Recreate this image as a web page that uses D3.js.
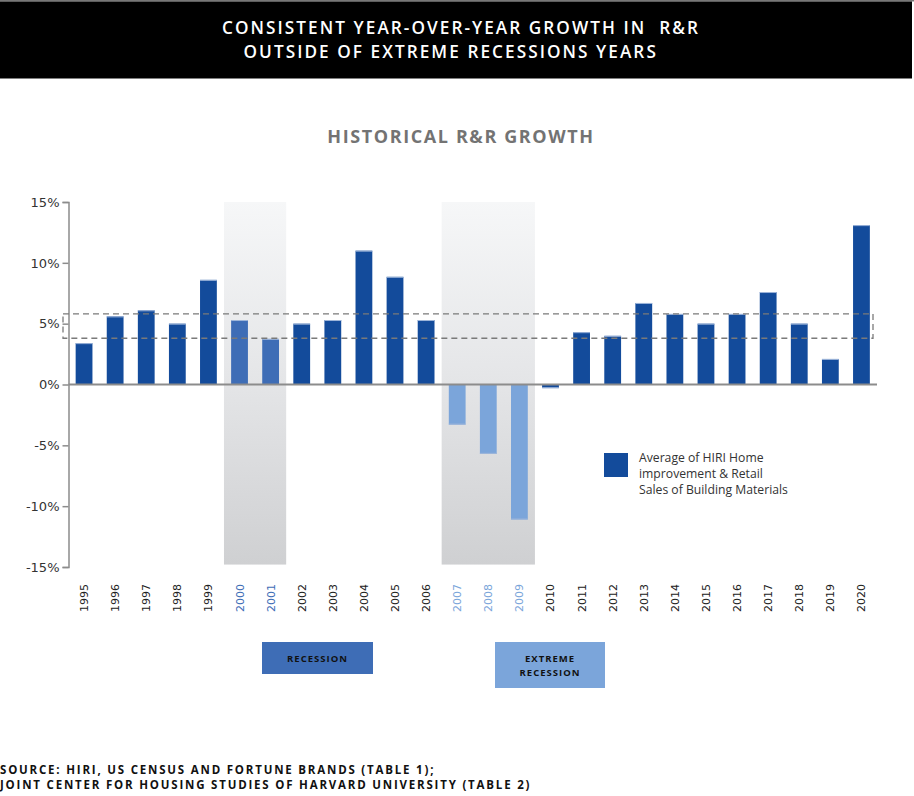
<!DOCTYPE html>
<html><head><meta charset="utf-8">
<script src="https://cdn.jsdelivr.net/npm/d3@7/dist/d3.min.js"></script>
<style>body{margin:0;background:#fff}svg{display:block}</style>
</head><body>
<svg id="c" width="914" height="796"></svg>
<script>
const years = ["1995","1996","1997","1998","1999","2000","2001","2002","2003","2004","2005","2006","2007","2008","2009","2010","2011","2012","2013","2014","2015","2016","2017","2018","2019","2020"];
const growth = [3.4,5.6,6.1,5.0,8.6,5.3,3.75,5.0,5.3,11.0,8.85,5.3,-3.3,-5.7,-11.1,-0.3,4.3,4.0,6.7,5.8,5.0,5.8,7.6,5.0,2.1,13.1];
const recessionYears = ["2000","2001"];
const extremeYears = ["2007","2008","2009"];
const yTicks = [-15,-10,-5,0,5,10,15];
const avgBandRange = [3.8, 5.8];
const titleLines = ["CONSISTENT YEAR-OVER-YEAR GROWTH IN  R&R","OUTSIDE OF EXTREME RECESSIONS YEARS"];
const subtitle = "HISTORICAL R&R GROWTH";
const legendLines = ["Average of HIRI Home","improvement & Retail","Sales of Building Materials"];
const sourceLines = ["SOURCE: HIRI, US CENSUS AND FORTUNE BRANDS (TABLE 1);","JOINT CENTER FOR HOUSING STUDIES OF HARVARD UNIVERSITY (TABLE 2)"];

const C_NORMAL="#134b9b", C_REC="#3e6db6", C_EXT="#7ba5da";
const svg=d3.select("#c");
const defs=svg.append("defs");
const g1=defs.append("linearGradient").attr("id","band").attr("x1",0).attr("y1",0).attr("x2",0).attr("y2",1);
g1.append("stop").attr("offset","0%").attr("stop-color","#f6f7f8");
g1.append("stop").attr("offset","45%").attr("stop-color","#e6e7e9");
g1.append("stop").attr("offset","100%").attr("stop-color","#cfd0d2");

// title band
svg.append("rect").attr("x",0).attr("y",0).attr("width",914).attr("height",1.5).attr("fill","#777");
svg.append("rect").attr("x",0).attr("y",1.5).attr("width",912).attr("height",77).attr("fill","#000");
const titleX=[222,243.5];
svg.selectAll("text.title").data(titleLines).join("text")
 .attr("x",(d,i)=>titleX[i]).attr("y",(d,i)=>33.5+i*24.4)
 .attr("fill","#fff").attr("font-family","Open Sans").attr("font-weight","600")
 .attr("font-size",17.2).attr("letter-spacing",2.05).style("white-space","pre").text(d=>d);

svg.append("text").attr("x",461).attr("y",143).attr("text-anchor","middle")
 .attr("fill","#737373").attr("font-family","Open Sans").attr("font-weight","bold")
 .attr("font-size",18).attr("letter-spacing",1.6).text(subtitle);

const x=d3.scaleBand().domain(years).range([68.5,877]).paddingInner(0.46).paddingOuter(0.23);
const y=d3.scaleLinear().domain([-15,15]).range([567,202]);

// shaded bands
function band(list){
  const x0=x(list[0])-x.step()*x.paddingInner()/2;
  const x1=x(list[list.length-1])+x.bandwidth()+x.step()*x.paddingInner()/2;
  svg.append("rect").attr("x",x0).attr("y",y(15)).attr("width",x1-x0).attr("height",y(-14.8)-y(15)).attr("fill","url(#band)");
}
band(recessionYears); band(extremeYears);

// y axis
const ya=svg.append("g").attr("transform","translate(68.5,0)")
 .call(d3.axisLeft(y).tickValues(yTicks).tickSize(6).tickPadding(3).tickFormat(d=>d+"%"));
ya.select(".domain").attr("stroke","#8c8c8c").attr("stroke-width",1.5);
ya.selectAll(".tick line").attr("stroke","#8c8c8c").attr("stroke-width",1.5);
ya.selectAll(".tick text").attr("font-family","DejaVu Sans").attr("font-size",13).attr("fill","#333");

function col(yr){return recessionYears.includes(yr)?C_REC:extremeYears.includes(yr)?C_EXT:C_NORMAL;}
// bars
svg.selectAll("rect.bar").data(years).join("rect").attr("class","bar")
 .attr("x",d=>x(d)).attr("width",x.bandwidth())
 .attr("y",(d,i)=>y(Math.max(0,growth[i]))).attr("height",(d,i)=>Math.abs(y(growth[i])-y(0)))
 .attr("fill",d=>col(d));
svg.selectAll("line.cap").data(years).join("line").attr("class","cap")
 .attr("x1",d=>x(d)).attr("x2",d=>x(d)+x.bandwidth())
 .attr("y1",(d,i)=>growth[i]>=0?y(growth[i])+0.5:y(growth[i])-0.5).attr("y2",(d,i)=>growth[i]>=0?y(growth[i])+0.5:y(growth[i])-0.5)
 .attr("stroke","#9fb6da").attr("stroke-width",1);

// zero line
svg.append("line").attr("x1",68.5).attr("x2",877).attr("y1",y(0)).attr("y2",y(0)).attr("stroke","#8c8c8c").attr("stroke-width",2);

// dashed average band
svg.append("rect").attr("x",63).attr("y",y(avgBandRange[1])).attr("width",873-63).attr("height",y(avgBandRange[0])-y(avgBandRange[1]))
 .attr("fill","none").attr("stroke","#7a7a7a").attr("stroke-width",1.3).attr("stroke-dasharray","6,4");

// year labels
svg.selectAll("text.yr").data(years).join("text").attr("class","yr")
 .attr("transform",d=>`translate(${x(d)+x.bandwidth()/2+4},584) rotate(-90)`)
 .attr("text-anchor","end").attr("font-family","DejaVu Sans").attr("font-size",11)
 .attr("fill",d=>recessionYears.includes(d)?C_REC:extremeYears.includes(d)?C_EXT:"#222").text(d=>d);

// legend
svg.append("rect").attr("x",604).attr("y",453).attr("width",24).attr("height",24).attr("fill",C_NORMAL);
svg.selectAll("text.lg").data(legendLines).join("text").attr("class","lg")
 .attr("x",639).attr("y",(d,i)=>462+i*16).attr("font-family","Open Sans").attr("font-size",12.2).attr("fill","#333").text(d=>d);

// recession legend boxes
const boxes=[{x:262,y:642,w:111,h:32,c:C_REC,t:["RECESSION"]},{x:495,y:642,w:110,h:46,c:C_EXT,t:["EXTREME","RECESSION"]}];
boxes.forEach(b=>{
  svg.append("rect").attr("x",b.x).attr("y",b.y).attr("width",b.w).attr("height",b.h).attr("fill",b.c);
  b.t.forEach((t,i)=>svg.append("text").attr("x",b.x+b.w/2).attr("y",b.y+20+i*14).attr("text-anchor","middle")
   .attr("font-family","Open Sans").attr("font-weight","bold").attr("font-size",9.5).attr("letter-spacing",1).attr("fill","#111").text(t));
});

// source
svg.selectAll("text.src").data(sourceLines).join("text").attr("class","src")
 .attr("x",0).attr("y",(d,i)=>774+i*15).attr("font-family","Open Sans").attr("font-weight","bold")
 .attr("font-size",11.5).attr("letter-spacing",1.8).attr("fill","#111").text(d=>d);
</script>
</body></html>
